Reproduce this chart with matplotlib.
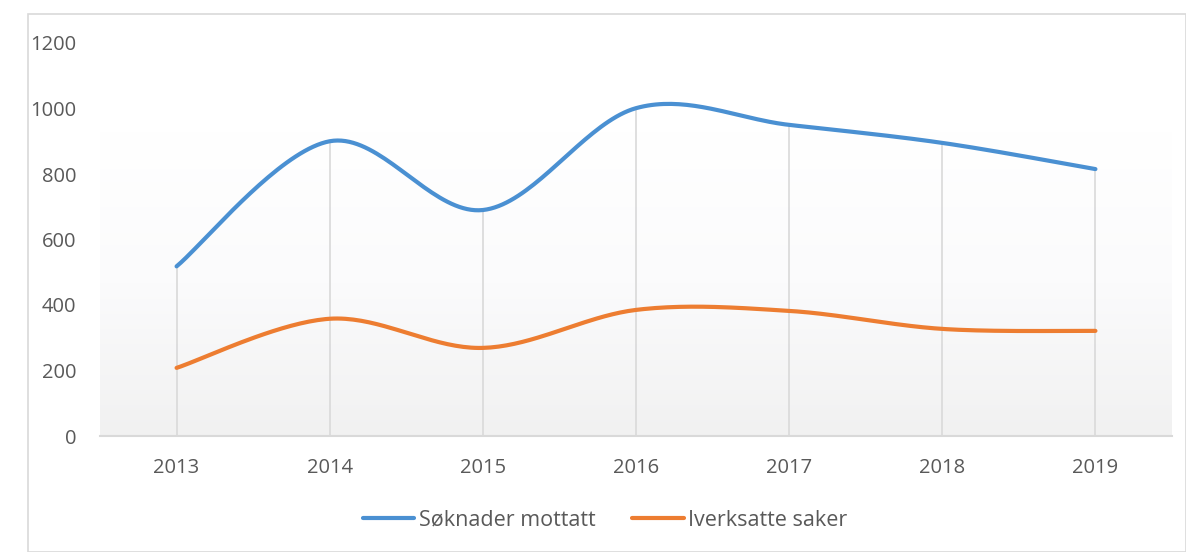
import numpy as np
import matplotlib.pyplot as plt
from matplotlib.patches import Rectangle
from matplotlib.colors import LinearSegmentedColormap

years = ["2013", "2014", "2015", "2016", "2017", "2018", "2019"]
soknader = [518, 900, 690, 1001, 950, 895, 815]
iverksatte = [208, 358, 269, 385, 382, 327, 321]

blue = "#4A90D2"
orange = "#ED7D31"
grey_txt = "#595959"


def smooth(x, y, n=40):
    # Excel-like smoothing: Bezier with Catmull-Rom control points
    x = np.asarray(x, float)
    y = np.asarray(y, float)
    px = np.concatenate([[x[0]], x, [x[-1]]])
    py = np.concatenate([[y[0]], y, [y[-1]]])
    xs, ys = [], []
    t = np.linspace(0, 1, n)
    for i in range(1, len(px) - 2):
        p0 = np.array([px[i], py[i]])
        p3 = np.array([px[i + 1], py[i + 1]])
        c1 = p0 + (np.array([px[i + 1], py[i + 1]]) - np.array([px[i - 1], py[i - 1]])) / 6
        c2 = p3 - (np.array([px[i + 2], py[i + 2]]) - np.array([px[i], py[i]])) / 6
        b = (np.outer((1 - t) ** 3, p0) + np.outer(3 * (1 - t) ** 2 * t, c1)
             + np.outer(3 * (1 - t) * t ** 2, c2) + np.outer(t ** 3, p3))
        xs.append(b[:, 0])
        ys.append(b[:, 1])
    return np.concatenate(xs), np.concatenate(ys)


plt.rcParams['font.family'] = ['Open Sans', 'DejaVu Sans']

fig = plt.figure(figsize=(11.86, 5.52), dpi=100)
fig.patches.append(Rectangle((28 / 1186, 0), 1 - 28 / 1186, 1 - 14 / 552,
                             transform=fig.transFigure, fill=False,
                             edgecolor="#d9d9d9", linewidth=1.2))

ax = fig.add_axes([100 / 1186, 1 - 436 / 552, 1072 / 1186, 393 / 552])
x = np.arange(len(years))

# gradient background
grad = np.linspace(0, 1, 256).reshape(-1, 1)
cm = LinearSegmentedColormap.from_list("bg", ["#f1f1f1", "#fbfbfc", "#ffffff"])
ax.imshow(grad, aspect="auto", cmap=cm, extent=[-0.5, 6.5, 0, 930],
          origin="lower", zorder=0)

# drop lines
tops = np.maximum(soknader, iverksatte)
ax.vlines(x, 0, tops, color="#d9d9d9", linewidth=1.2, zorder=1)

sx, sy = smooth(x, soknader)
ox, oy = smooth(x, iverksatte)
ax.plot(sx, sy, color=blue, linewidth=3, solid_capstyle="round", label="Søknader mottatt", zorder=3)
ax.plot(ox, oy, color=orange, linewidth=3, solid_capstyle="round", label="Iverksatte saker", zorder=3)

ax.set_xlim(-0.5, 6.5)
ax.set_ylim(0, 1200)
ax.set_xticks(x)
ax.set_xticklabels(years)
ax.set_yticks(range(0, 1201, 200))
ax.tick_params(axis="both", length=0, labelsize=14.5, labelcolor=grey_txt)
ax.tick_params(axis="x", pad=16)
ax.tick_params(axis="y", pad=17)
for s in ["top", "right", "left"]:
    ax.spines[s].set_visible(False)
ax.spines["bottom"].set_color("#d9d9d9")
ax.spines["bottom"].set_linewidth(1.5)

leg = fig.legend(loc="center", bbox_to_anchor=(0.51, 1 - 520 / 552), ncol=2,
                 frameon=False, fontsize=15.5, handlelength=2.4, handletextpad=0.2,
                 columnspacing=1.7)
for t in leg.get_texts():
    t.set_color(grey_txt)

fig.savefig("out.png", dpi=100)
